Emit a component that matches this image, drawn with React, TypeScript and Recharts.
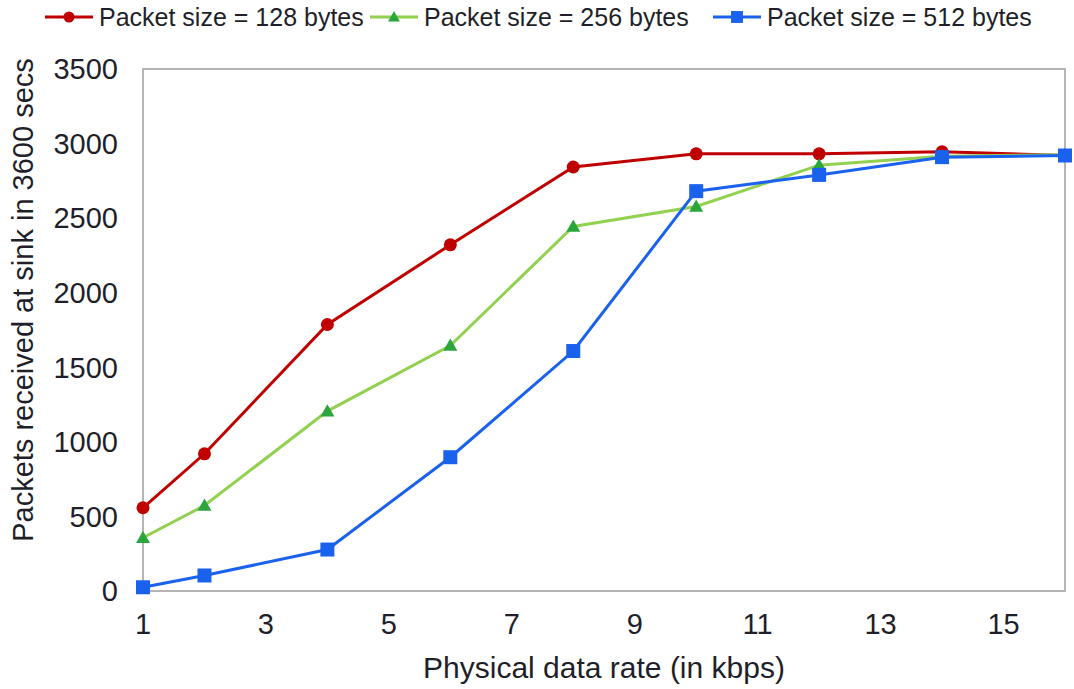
import { LineChart, Line, XAxis, YAxis, Legend, ReferenceArea } from 'recharts';

// x values (kbps) and packets received per packet size
const dataRate = [1, 2, 4, 6, 8, 10, 12, 14, 16];
const packets128 = [558, 920, 1787, 2321, 2843, 2931, 2931, 2945, 2920];
const packets256 = [357, 573, 1206, 1646, 2444, 2578, 2855, 2915, 2925];
const packets512 = [25, 104, 278, 897, 1609, 2681, 2790, 2909, 2920];

const xTicks = [1, 3, 5, 7, 9, 11, 13, 15];
const yTicks = [0, 500, 1000, 1500, 2000, 2500, 3000, 3500];

const FONT = '"Liberation Sans", Arial, sans-serif';
const TEXT = '#1f1f2a';

const SERIES = [
  { key: 'p128', name: 'Packet size = 128 bytes', line: '#c00000', marker: '#c00000', shape: 'circle', w: 325 },
  { key: 'p256', name: 'Packet size = 256 bytes', line: '#92d050', marker: '#2aa63c', shape: 'triangle', w: 343 },
  { key: 'p512', name: 'Packet size = 512 bytes', line: '#1a62ee', marker: '#1a62ee', shape: 'square', w: 320 },
];

const chartData = dataRate.map((x, i) => ({
  x,
  p128: packets128[i],
  p256: packets256[i],
  p512: packets512[i],
}));

function Marker({ cx, cy, shape, color, size = 1 }: any) {
  if (cx == null || cy == null) return null;
  if (shape === 'circle') return <circle cx={cx} cy={cy} r={6.5 * size} fill={color} />;
  if (shape === 'square') {
    const h = 7 * size;
    return <rect x={cx - h} y={cy - h} width={h * 2} height={h * 2} fill={color} />;
  }
  const s = 7 * size;
  return (
    <polygon
      points={`${cx},${cy - s} ${cx + s},${cy + s * 0.75} ${cx - s},${cy + s * 0.75}`}
      fill={color}
    />
  );
}

function renderLegend() {
  return (
    <div
      style={{
        display: 'flex',
        alignItems: 'center',
        paddingLeft: 45,
        height: 34,
        fontFamily: FONT,
        fontSize: 25,
        color: TEXT,
      }}
    >
      {SERIES.map((s) => (
        <div key={s.key} style={{ display: 'flex', alignItems: 'center', width: s.w, flex: 'none' }}>
          <svg width={48} height={20}>
            <line x1={0} y1={10} x2={48} y2={10} stroke={s.line} strokeWidth={3} />
            <Marker cx={24} cy={10} shape={s.shape} color={s.marker} size={0.85} />
          </svg>
          <span style={{ marginLeft: 6, whiteSpace: 'nowrap' }}>{s.name}</span>
        </div>
      ))}
    </div>
  );
}

const YLabel = () => (
  <text
    x={33}
    y={300}
    transform="rotate(-90 33 300)"
    textAnchor="middle"
    fontFamily={FONT}
    fontSize={29}
    fill={TEXT}
  >
    Packets received at sink in 3600 secs
  </text>
);

export default function App() {
  return (
    <div style={{ position: 'absolute', left: 0, top: 0, background: '#fff' }}>
      <LineChart
        width={1074}
        height={689}
        data={chartData}
        margin={{ top: 69, right: 9, bottom: 0, left: 0 }}
      >
        <XAxis
          dataKey="x"
          type="number"
          domain={[1, 16]}
          ticks={xTicks}
          height={98}
          axisLine={false}
          tickLine={false}
          tickSize={0}
          tickMargin={22}
          tick={{ fontSize: 29, fontFamily: FONT, fill: TEXT }}
          label={{
            value: 'Physical data rate (in kbps)',
            position: 'insideBottom',
            offset: 11,
            style: { fontSize: 30, fontFamily: FONT, fill: TEXT },
          }}
        />
        <YAxis
          type="number"
          domain={[0, 3500]}
          ticks={yTicks}
          width={143}
          axisLine={false}
          tickLine={false}
          tickSize={0}
          tickMargin={25}
          tick={{ fontSize: 29, fontFamily: FONT, fill: TEXT }}
          label={{ content: () => <YLabel /> }}
        />
        <ReferenceArea
          x1={1}
          x2={16}
          y1={0}
          y2={3500}
          fill="none"
          fillOpacity={0}
          stroke="#b5b5b5"
          strokeWidth={2}
        />
        <Legend
          layout="horizontal"
          verticalAlign="middle"
          align="center"
          content={renderLegend}
          wrapperStyle={{ top: 0, left: 0, width: 1074, height: 34 }}
        />
        {SERIES.map((s) => (
          <Line
            key={s.key}
            dataKey={s.key}
            name={s.name}
            type="linear"
            stroke={s.line}
            strokeWidth={3}
            isAnimationActive={false}
            dot={(p: any) => (
              <Marker key={`${s.key}-${p.index}`} cx={p.cx} cy={p.cy} shape={s.shape} color={s.marker} />
            )}
            activeDot={false}
          />
        ))}
      </LineChart>
    </div>
  );
}
